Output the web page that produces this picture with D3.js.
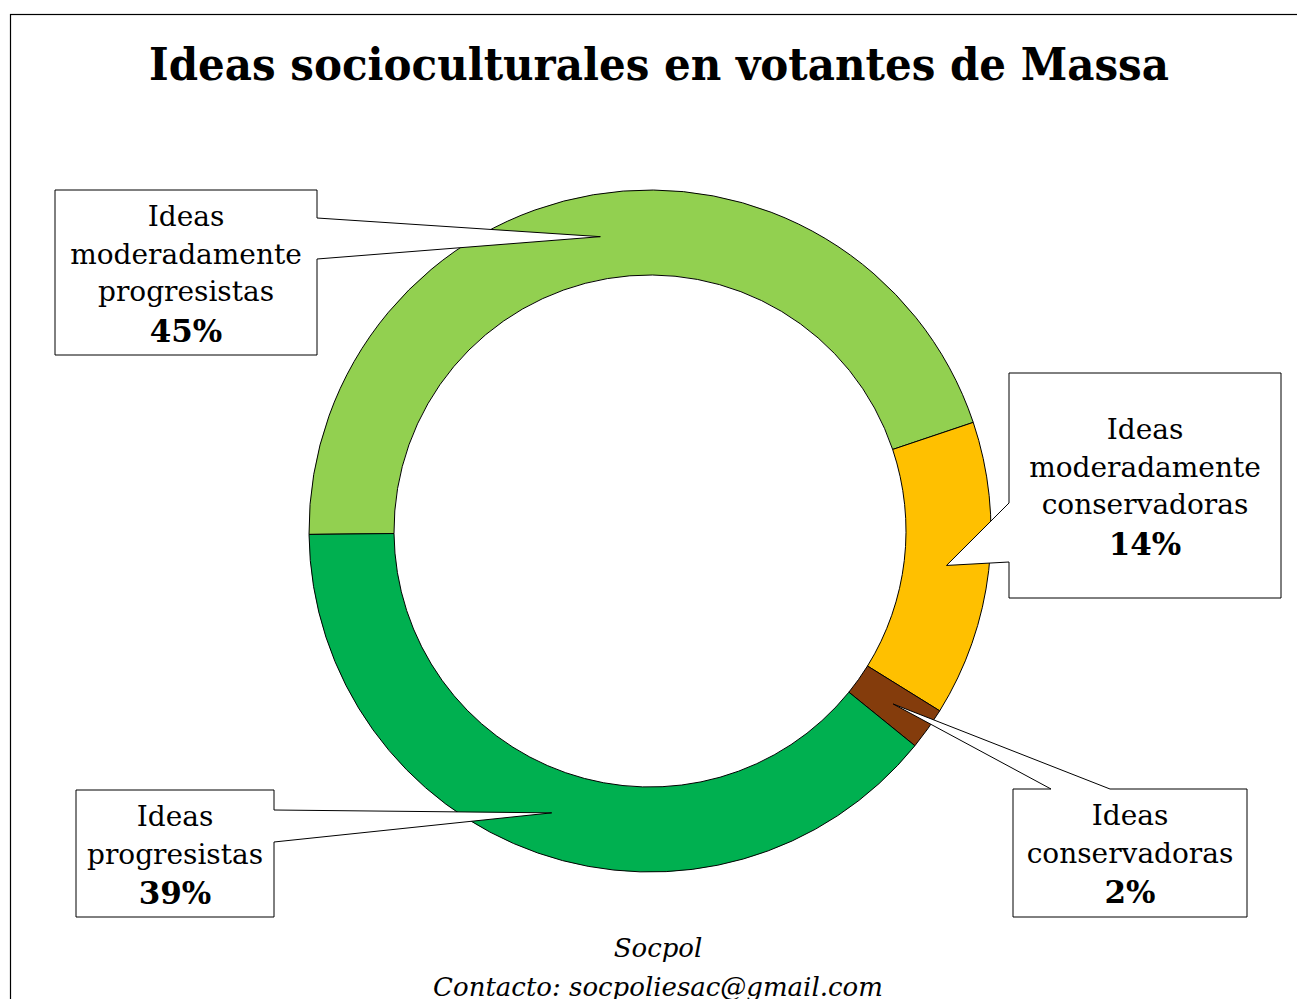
<!DOCTYPE html>
<html>
<head>
<meta charset="utf-8">
<script src="https://cdn.jsdelivr.net/npm/d3@7"></script>
<style>
  body { margin: 0; background: #fff; }
  svg text { font-family: Rockwell, "DejaVu Serif", serif; }
</style>
</head>
<body>
<div id="chart"></div>
<script>
// data
var categories = ["Ideas moderadamente progresistas", "Ideas moderadamente conservadoras", "Ideas conservadoras", "Ideas progresistas"];
var values = [45, 14, 2, 39];
var colors = ["#92D050", "#FFC000", "#843C0C", "#00B050"];
var labelLines = [
  ["Ideas", "moderadamente", "progresistas"],
  ["Ideas", "moderadamente", "conservadoras"],
  ["Ideas", "conservadoras"],
  ["Ideas", "progresistas"]
];
var titleText = "Ideas socioculturales en votantes de Massa";
var footerLines = ["Socpol", "Contacto: socpoliesac@gmail.com"];

var width = 1297, height = 999;
var cx = 650, cy = 531, outerR = 341, innerR = 256;

var svg = d3.select("#chart").append("svg")
  .attr("width", width)
  .attr("height", height);

// frame
svg.append("rect")
  .attr("x", 10.5).attr("y", 14.5)
  .attr("width", 1400).attr("height", 1200)
  .style("fill", "#fff")
  .style("stroke", "#000")
  .style("stroke-width", 1.2);

svg.append("text")
  .attr("x", 659).attr("y", 80)
  .attr("text-anchor", "middle")
  .style("font-size", "44px")
  .style("font-weight", "bold")
  .attr("textLength", 1020)
  .attr("lengthAdjust", "spacingAndGlyphs")
  .text(titleText);

var dataset = categories.map(function(c, i) {
  return {name: c, value: values[i], color: colors[i], lines: labelLines[i]};
});

// pie starts slightly below 9 o'clock, like the original
var pie = d3.pie()
  .sort(null)
  .value(function(d) { return d.value; })
  .startAngle(-Math.PI / 2 - 0.01)
  .endAngle(3 * Math.PI / 2 - 0.01);

var arc = d3.arc().innerRadius(innerR).outerRadius(outerR);

var g = svg.append("g").attr("transform", "translate(" + cx + "," + cy + ")");
var arcs = pie(dataset);

g.selectAll("path.slice")
  .data(arcs)
  .enter()
  .append("path")
  .attr("class", "slice")
  .attr("d", arc)
  .style("fill", function(d) { return d.data.color; })
  .style("stroke", "#000")
  .style("stroke-width", 1);

// callout boxes: box + side where the wedge leaves + wedge base along that side
var callouts = [
  {x0: 55, y0: 190, x1: 317, y1: 355, side: "right", a: 218, b: 259, tx: 186, ty: 226},
  {x0: 1009, y0: 373, x1: 1281, y1: 598, side: "left", a: 503, b: 562, tx: 1145, ty: 439},
  {x0: 1013, y0: 789, x1: 1247, y1: 917, side: "top", a: 1051, b: 1110, tx: 1130, ty: 825},
  {x0: 76, y0: 790, x1: 274, y1: 917, side: "right", a: 810, b: 842, tx: 175, ty: 826}
];

function calloutPath(c, tip) {
  var p = [];
  if (c.side === "right") {
    p = [[c.x0, c.y0], [c.x1, c.y0], [c.x1, c.a], tip, [c.x1, c.b], [c.x1, c.y1], [c.x0, c.y1]];
  } else if (c.side === "left") {
    p = [[c.x0, c.y0], [c.x1, c.y0], [c.x1, c.y1], [c.x0, c.y1], [c.x0, c.b], tip, [c.x0, c.a]];
  } else {
    p = [[c.x0, c.y0], [c.a, c.y0], tip, [c.b, c.y0], [c.x1, c.y0], [c.x1, c.y1], [c.x0, c.y1]];
  }
  return "M" + p.map(function(q) { return q[0] + "," + q[1]; }).join("L") + "Z";
}

var lineH = 37.5;
arcs.forEach(function(d, i) {
  var c = callouts[i];
  var cen = arc.centroid(d);
  var tip = [cx + cen[0], cy + cen[1]];
  svg.append("path")
    .attr("d", calloutPath(c, tip))
    .style("fill", "#fff")
    .style("stroke", "#000")
    .style("stroke-width", 1);
  var t = svg.append("text")
    .attr("text-anchor", "middle")
    .style("font-size", "28px")
    .style("fill", "#000");
  d.data.lines.forEach(function(line, j) {
    t.append("tspan")
      .attr("x", c.tx)
      .attr("y", c.ty + j * lineH)
      .text(line);
  });
  t.append("tspan")
    .attr("x", c.tx)
    .attr("y", c.ty + d.data.lines.length * lineH + 3)
    .style("font-weight", "bold")
    .style("font-size", "31px")
    .text(d.data.value + "%");
});

// footer (second line is cut by the bottom edge in the original too)
footerLines.forEach(function(line, j) {
  svg.append("text")
    .attr("x", 658)
    .attr("y", 957 + j * 39)
    .attr("text-anchor", "middle")
    .style("font-size", "26px")
    .style("font-style", "italic")
    .text(line);
});
</script>
</body>
</html>
